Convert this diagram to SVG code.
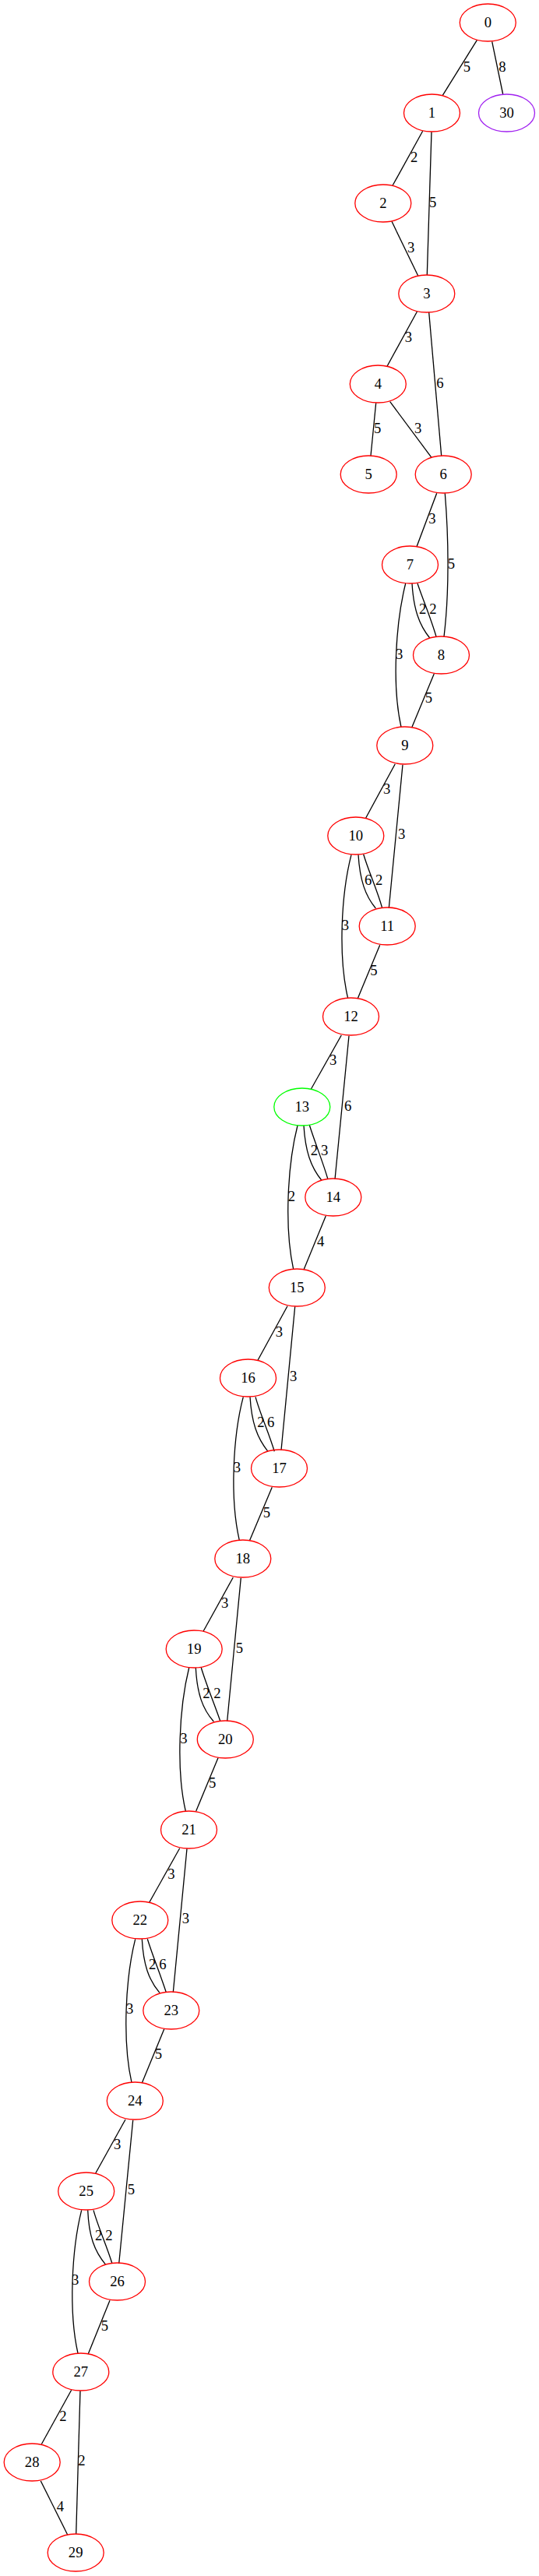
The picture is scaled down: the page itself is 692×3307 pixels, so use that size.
<svg xmlns="http://www.w3.org/2000/svg" width="692" height="3307" viewBox="0 0 692 3307">
<style>
.n ellipse{fill:none;stroke:#ff0000;stroke-width:1.3}
.g ellipse{stroke:#00ff00}
.p ellipse{stroke:#a020f0}
text{font-family:"Liberation Serif","Times New Roman",serif;font-size:18.67px;fill:#000;text-anchor:middle}
#edges path{fill:none;stroke:#000;stroke-width:1.3}
</style>
<rect width="692" height="3307" fill="#fff"/>
<g id="edges">
<path d="M612.3,51.7 L568.3,122.3"/><text x="599.3" y="92">5</text>
<path d="M631.7,53.3 L645.7,121"/><text x="645" y="92">8</text>
<path d="M542.7,168.3 L504,238.3"/><text x="531.7" y="208">2</text>
<path d="M554,169.3 L548.3,353.3"/><text x="555.7" y="265.5">5</text>
<path d="M503,284.3 L536.7,354"/><text x="527.7" y="324">3</text>
<path d="M535.5,400 L496.7,470.7"/><text x="524.3" y="439.3">3</text>
<path d="M550.7,401 L566.7,585"/><text x="565" y="497.7">6</text>
<path d="M482.7,517.3 L476,585"/><text x="484.7" y="555.7">5</text>
<path d="M500.7,515.7 L554,587.3"/><text x="536.7" y="555.7">3</text>
<path d="M560.7,633.3 L535,701.7"/><text x="555" y="671.7">3</text>
<path d="M571.3,633.3 C576,690 577,760 570,817.3"/><text x="579.3" y="730">5</text>
<path d="M529,749 C531,782 538,802 551.7,819"/><text x="542.7" y="788.3">2</text>
<path d="M536,749 C543,770 553,793 560,817.3"/><text x="556" y="788.3">2</text>
<path d="M520.7,749 C508,800 503,880 515,933.3"/><text x="512.7" y="846">3</text>
<path d="M557.3,865 L529,933.3"/><text x="550.5" y="902">5</text>
<path d="M507.3,980.7 L469.3,1050.7"/><text x="496.7" y="1019.3">3</text>
<path d="M517,981.7 L499.3,1165.7"/><text x="515.7" y="1077.3">3</text>
<path d="M460,1097.3 C462,1130 469,1150 482.3,1166"/><text x="472.7" y="1136">6</text>
<path d="M466.7,1096.7 C473,1118 484,1142 490.7,1165.7"/><text x="486.7" y="1136">2</text>
<path d="M451,1097.3 C438,1148 434,1228 446.7,1281.7"/><text x="443.3" y="1194">3</text>
<path d="M487.7,1213.3 L459.3,1281.7"/><text x="480" y="1251.7">5</text>
<path d="M438.3,1329 L399.3,1398.3"/><text x="427.7" y="1367.3">3</text>
<path d="M448,1329.7 L430,1514"/><text x="446.7" y="1425.7">6</text>
<path d="M390,1445 C392,1478 399,1498 412.7,1515"/><text x="403.3" y="1483.3">2</text>
<path d="M397.3,1444.3 C404,1466 414,1490 421,1514"/><text x="416.7" y="1483.3">3</text>
<path d="M382,1445 C369,1496 365,1576 376.7,1629.3"/><text x="374.3" y="1542">2</text>
<path d="M418.3,1561 L390,1630"/><text x="411.7" y="1600">4</text>
<path d="M369,1676.7 L330.7,1746.7"/><text x="358.3" y="1715.7">3</text>
<path d="M378.7,1677.3 L361,1861.7"/><text x="376.7" y="1773.3">3</text>
<path d="M321,1793.3 C323,1826 330,1846 344,1863.3"/><text x="335" y="1831.7">2</text>
<path d="M328,1793.3 C334,1815 345,1839 352.3,1863.3"/><text x="347.7" y="1831.7">6</text>
<path d="M312.3,1793.3 C299,1844 295,1924 307.3,1977.3"/><text x="304.3" y="1890">3</text>
<path d="M349.3,1909.3 L320.7,1977.3"/><text x="342.3" y="1947.7">5</text>
<path d="M299.3,2025 L261,2094.3"/><text x="288.7" y="2064">3</text>
<path d="M309.3,2025.7 L291.7,2209.3"/><text x="307.3" y="2121.7">5</text>
<path d="M251.3,2141 C253,2174 260,2194 274.3,2210"/><text x="265" y="2180">2</text>
<path d="M258.3,2141 C265,2163 275,2187 282.7,2209.3"/><text x="279" y="2180">2</text>
<path d="M242.7,2141 C230,2192 226,2272 238.3,2325"/><text x="236" y="2238.3">3</text>
<path d="M280,2256.7 L251.7,2325"/><text x="272.7" y="2295">5</text>
<path d="M230.7,2372.7 L191.7,2442.3"/><text x="220" y="2411.7">3</text>
<path d="M240,2373.3 L222.3,2557.7"/><text x="238.3" y="2469.3">3</text>
<path d="M182.3,2489.3 C184,2522 191,2542 205,2558.3"/><text x="195.7" y="2527.7">2</text>
<path d="M189.3,2489.3 C196,2511 206,2535 213.3,2557.7"/><text x="209" y="2527.7">6</text>
<path d="M173.7,2489.3 C161,2540 157,2620 169,2673.3"/><text x="166.7" y="2585">3</text>
<path d="M210.7,2605 L182.3,2674"/><text x="203.3" y="2643.3">5</text>
<path d="M161,2721 L122.7,2790"/><text x="150.7" y="2759.3">3</text>
<path d="M170.7,2721.7 L152.7,2906"/><text x="168.3" y="2816.7">5</text>
<path d="M112.7,2837.3 C114,2870 121,2890 135.7,2907.3"/><text x="126.7" y="2876">2</text>
<path d="M120,2837.3 C126,2859 137,2883 144,2906"/><text x="140" y="2876">2</text>
<path d="M104.7,2837.3 C92,2888 88,2968 100,3021"/><text x="96.7" y="2933.3">3</text>
<path d="M141,2953.3 L113.3,3021.7"/><text x="134.3" y="2991.7">5</text>
<path d="M91.7,3068.3 L53.3,3137.7"/><text x="81" y="3107.7">2</text>
<path d="M103,3069.3 L97.7,3253.3"/><text x="105" y="3165">2</text>
<path d="M52.3,3185 L86.7,3254"/><text x="77.3" y="3224">4</text>
</g>
<g id="node0" class="n"><ellipse cx="626.3" cy="29" rx="36" ry="24"/><text x="626.3" y="34.5">0</text></g>
<g id="node30" class="n p"><ellipse cx="650.5" cy="145" rx="36" ry="24"/><text x="650.5" y="150.5">30</text></g>
<g id="node1" class="n"><ellipse cx="554.5" cy="145" rx="36" ry="24"/><text x="554.5" y="150.5">1</text></g>
<g id="node2" class="n"><ellipse cx="491.8" cy="261" rx="36" ry="24"/><text x="491.8" y="266.5">2</text></g>
<g id="node3" class="n"><ellipse cx="547.8" cy="377" rx="36" ry="24"/><text x="547.8" y="382.5">3</text></g>
<g id="node4" class="n"><ellipse cx="485.3" cy="493" rx="36" ry="24"/><text x="485.3" y="498.5">4</text></g>
<g id="node5" class="n"><ellipse cx="473.2" cy="609" rx="36" ry="24"/><text x="473.2" y="614.5">5</text></g>
<g id="node6" class="n"><ellipse cx="569.2" cy="609" rx="36" ry="24"/><text x="569.2" y="614.5">6</text></g>
<g id="node7" class="n"><ellipse cx="526.5" cy="725" rx="36" ry="24"/><text x="526.5" y="730.5">7</text></g>
<g id="node8" class="n"><ellipse cx="566.5" cy="841" rx="36" ry="24"/><text x="566.5" y="846.5">8</text></g>
<g id="node9" class="n"><ellipse cx="519.8" cy="957" rx="36" ry="24"/><text x="519.8" y="962.5">9</text></g>
<g id="node10" class="n"><ellipse cx="456.8" cy="1073" rx="36" ry="24"/><text x="456.8" y="1078.5">10</text></g>
<g id="node11" class="n"><ellipse cx="497.2" cy="1189" rx="36" ry="24"/><text x="497.2" y="1194.5">11</text></g>
<g id="node12" class="n"><ellipse cx="450.5" cy="1305" rx="36" ry="24"/><text x="450.5" y="1310.5">12</text></g>
<g id="node13" class="n g"><ellipse cx="387.8" cy="1421" rx="36" ry="24"/><text x="387.8" y="1426.5">13</text></g>
<g id="node14" class="n"><ellipse cx="427.8" cy="1537" rx="36" ry="24"/><text x="427.8" y="1542.5">14</text></g>
<g id="node15" class="n"><ellipse cx="381.3" cy="1653" rx="36" ry="24"/><text x="381.3" y="1658.5">15</text></g>
<g id="node16" class="n"><ellipse cx="318.5" cy="1769" rx="36" ry="24"/><text x="318.5" y="1774.5">16</text></g>
<g id="node17" class="n"><ellipse cx="358.5" cy="1885" rx="36" ry="24"/><text x="358.5" y="1890.5">17</text></g>
<g id="node18" class="n"><ellipse cx="311.8" cy="2001" rx="36" ry="24"/><text x="311.8" y="2006.5">18</text></g>
<g id="node19" class="n"><ellipse cx="249.2" cy="2117" rx="36" ry="24"/><text x="249.2" y="2122.5">19</text></g>
<g id="node20" class="n"><ellipse cx="289.3" cy="2233" rx="36" ry="24"/><text x="289.3" y="2238.5">20</text></g>
<g id="node21" class="n"><ellipse cx="242.5" cy="2349" rx="36" ry="24"/><text x="242.5" y="2354.5">21</text></g>
<g id="node22" class="n"><ellipse cx="179.8" cy="2465" rx="36" ry="24"/><text x="179.8" y="2470.5">22</text></g>
<g id="node23" class="n"><ellipse cx="219.8" cy="2581" rx="36" ry="24"/><text x="219.8" y="2586.5">23</text></g>
<g id="node24" class="n"><ellipse cx="173.3" cy="2697" rx="36" ry="24"/><text x="173.3" y="2702.5">24</text></g>
<g id="node25" class="n"><ellipse cx="110.7" cy="2813" rx="36" ry="24"/><text x="110.7" y="2818.5">25</text></g>
<g id="node26" class="n"><ellipse cx="150.5" cy="2929" rx="36" ry="24"/><text x="150.5" y="2934.5">26</text></g>
<g id="node27" class="n"><ellipse cx="103.8" cy="3045" rx="36" ry="24"/><text x="103.8" y="3050.5">27</text></g>
<g id="node28" class="n"><ellipse cx="41.2" cy="3161" rx="36" ry="24"/><text x="41.2" y="3166.5">28</text></g>
<g id="node29" class="n"><ellipse cx="97.2" cy="3277" rx="36" ry="24"/><text x="97.2" y="3282.5">29</text></g>
</svg>
